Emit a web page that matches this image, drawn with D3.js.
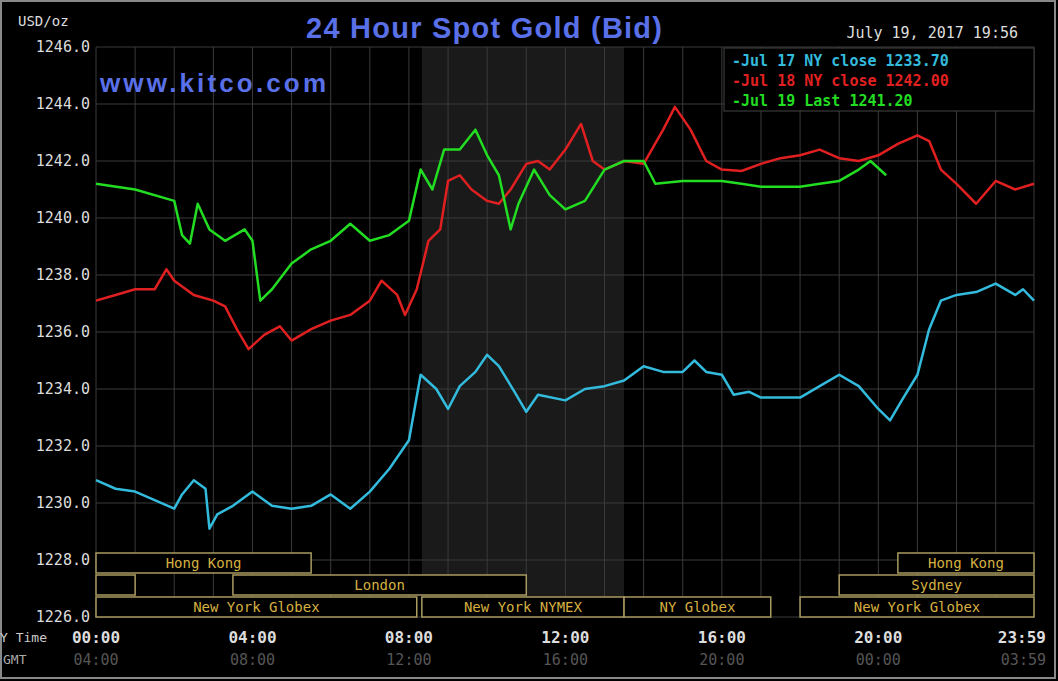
<!DOCTYPE html><html><head><meta charset="utf-8"><script src="https://cdn.jsdelivr.net/npm/d3@7"></script>
<style>body{margin:0;background:#000}svg{display:block}</style></head><body><svg id="c" width="1058" height="681"></svg>
<script>
const yTicks=[1226,1228,1230,1232,1234,1236,1238,1240,1242,1244,1246];
const nyTicks=[[0,"00:00"],[4,"04:00"],[8,"08:00"],[12,"12:00"],[16,"16:00"],[20,"20:00"],[23.98,"23:59"]];
const gmtLabels=["04:00","08:00","12:00","16:00","20:00","00:00","03:59"];
const jul17=[[0,1230.8],[0.5,1230.5],[1,1230.4],[1.5,1230.1],[2,1229.8],[2.2,1230.3],[2.5,1230.8],[2.8,1230.5],[2.9,1229.1],[3.1,1229.6],[3.5,1229.9],[4,1230.4],[4.5,1229.9],[5,1229.8],[5.5,1229.9],[6,1230.3],[6.5,1229.8],[7,1230.4],[7.5,1231.2],[8,1232.2],[8.3,1234.5],[8.7,1234.0],[9,1233.3],[9.3,1234.1],[9.7,1234.6],[10,1235.2],[10.3,1234.8],[10.7,1233.9],[11,1233.2],[11.3,1233.8],[12,1233.6],[12.5,1234.0],[13,1234.1],[13.5,1234.3],[14,1234.8],[14.5,1234.6],[15,1234.6],[15.3,1235.0],[15.6,1234.6],[16,1234.5],[16.3,1233.8],[16.7,1233.9],[17,1233.7],[18,1233.7],[18.5,1234.1],[19,1234.5],[19.5,1234.1],[20,1233.3],[20.3,1232.9],[20.6,1233.6],[21,1234.5],[21.3,1236.1],[21.6,1237.1],[22,1237.3],[22.5,1237.4],[23,1237.7],[23.5,1237.3],[23.7,1237.5],[23.98,1237.1]];
const jul18=[[0,1237.1],[0.5,1237.3],[1,1237.5],[1.5,1237.5],[1.8,1238.2],[2,1237.8],[2.5,1237.3],[3,1237.1],[3.3,1236.9],[3.6,1236.1],[3.9,1235.4],[4.3,1235.9],[4.7,1236.2],[5,1235.7],[5.5,1236.1],[6,1236.4],[6.5,1236.6],[7,1237.1],[7.3,1237.8],[7.7,1237.3],[7.9,1236.6],[8.2,1237.5],[8.5,1239.2],[8.8,1239.6],[9,1241.3],[9.3,1241.5],[9.6,1241.0],[10,1240.6],[10.3,1240.5],[10.6,1241.0],[11,1241.9],[11.3,1242.0],[11.6,1241.7],[12,1242.4],[12.4,1243.3],[12.7,1242.0],[13,1241.7],[13.5,1242.0],[14,1241.9],[14.5,1243.1],[14.8,1243.9],[15.2,1243.1],[15.6,1242.0],[16,1241.7],[16.5,1241.65],[17,1241.9],[17.5,1242.1],[18,1242.2],[18.5,1242.4],[19,1242.1],[19.5,1242.0],[20,1242.2],[20.5,1242.6],[21,1242.9],[21.3,1242.7],[21.6,1241.7],[22,1241.2],[22.5,1240.5],[23,1241.3],[23.5,1241.0],[23.98,1241.2]];
const jul19=[[0,1241.2],[1,1241.0],[2,1240.6],[2.2,1239.4],[2.4,1239.1],[2.6,1240.5],[2.9,1239.6],[3.3,1239.2],[3.8,1239.6],[4,1239.2],[4.2,1237.1],[4.5,1237.5],[5,1238.4],[5.5,1238.9],[6,1239.2],[6.5,1239.8],[7,1239.2],[7.5,1239.4],[8,1239.9],[8.3,1241.7],[8.6,1241.0],[8.9,1242.4],[9.3,1242.4],[9.7,1243.1],[10,1242.2],[10.3,1241.5],[10.6,1239.6],[10.8,1240.5],[11.2,1241.7],[11.6,1240.8],[12,1240.3],[12.5,1240.6],[13,1241.7],[13.5,1242.0],[14,1242.0],[14.3,1241.2],[15,1241.3],[16,1241.3],[16.5,1241.2],[17,1241.1],[18,1241.1],[18.5,1241.2],[19,1241.3],[19.5,1241.7],[19.8,1242.0],[20.2,1241.5]];
const legend=[["-Jul 17 NY close 1233.70","#33bbdd"],["-Jul 18 NY close 1242.00","#e02020"],["-Jul 19 Last 1241.20","#22dd22"]];
const sessions=[[0,0,5.5,"Hong Kong"],[0,20.5,24,"Hong Kong"],[1,0,1,""],[1,3.5,11,"London"],[1,19,24,"Sydney"],[2,0,8.2,"New York Globex"],[2,8.33,13.5,"New York NYMEX"],[2,13.5,17.25,"NY Globex"],[2,18,24,"New York Globex"]];

const svg=d3.select("#c");
const L=96,R=1034,T=47,B=617;
const x=d3.scaleLinear().domain([0,23.98]).range([L,R]);
const y=d3.scaleLinear().domain([1226,1246]).range([B,T]);
svg.append("rect").attr("width",1058).attr("height",681).attr("fill","#000");
svg.append("rect").attr("x",1).attr("y",1).attr("width",1054).attr("height",677).attr("fill","none").attr("stroke","#888").attr("stroke-width",2);
svg.append("rect").attr("x",x(8.33)).attr("y",T).attr("width",x(13.5)-x(8.33)).attr("height",B-T).attr("fill","#1a1a1a");
const g=svg.append("g");
g.selectAll(".v").data(d3.range(0,25)).join("line").attr("x1",d=>x(Math.min(d,23.98))).attr("x2",d=>x(Math.min(d,23.98))).attr("y1",T).attr("y2",B).attr("stroke","#3a3a3a");
g.selectAll(".h").data(yTicks).join("line").attr("x1",L).attr("x2",R).attr("y1",d=>y(d)).attr("y2",d=>y(d)).attr("stroke","#3a3a3a");
const mono="'DejaVu Sans Mono',monospace";
svg.append("g").selectAll("text").data(yTicks).join("text").attr("x",90).attr("y",d=>y(d)+5).attr("text-anchor","end").attr("fill","#ddd").attr("font-family",mono).attr("font-size",15).text(d=>d.toFixed(1));
svg.append("text").attr("x",18).attr("y",26).attr("fill","#ddd").attr("font-family",mono).attr("font-size",14).text("USD/oz");
svg.append("g").selectAll("text").data(nyTicks).join("text").attr("x",(d,i)=>i==6?1046:x(d[0])).attr("y",643).attr("text-anchor",(d,i)=>i==6?"end":"middle").attr("fill","#ddd").attr("font-family",mono).attr("font-size",16).attr("font-weight","bold").text(d=>d[1]);
svg.append("g").selectAll("text").data(nyTicks).join("text").attr("x",(d,i)=>i==6?1046:x(d[0])).attr("y",665).attr("text-anchor",(d,i)=>i==6?"end":"middle").attr("fill","#555").attr("font-family",mono).attr("font-size",15).text((d,i)=>gmtLabels[i]);
svg.append("text").attr("x",0).attr("y",642).attr("fill","#ccc").attr("font-family",mono).attr("font-size",13).text("Y Time");
svg.append("text").attr("x",3).attr("y",664).attr("fill","#aaa").attr("font-family",mono).attr("font-size",13).text("GMT");
const rows=[553,575,597];
const sg=svg.append("g");
sessions.forEach(s=>{const y0=rows[s[0]];
 sg.append("rect").attr("x",x(Math.min(s[1],23.98))).attr("y",y0).attr("width",x(Math.min(s[2],23.98))-x(Math.min(s[1],23.98))).attr("height",20).attr("fill","#000").attr("stroke","#a89a60").attr("stroke-width",1.5);
 sg.append("text").attr("x",(x(s[1])+x(Math.min(s[2],23.98)))/2).attr("y",y0+15).attr("text-anchor","middle").attr("fill","#d6b040").attr("font-family",mono).attr("font-size",14).text(s[3]);});
const line=d3.line().x(d=>x(d[0])).y(d=>y(d[1]));
[[jul17,"#33bbdd"],[jul18,"#e02020"],[jul19,"#22dd22"]].forEach(([d,c])=>svg.append("path").datum(d).attr("d",line).attr("fill","none").attr("stroke",c).attr("stroke-width",2.5).attr("stroke-linejoin","round"));
svg.append("text").attr("x",484).attr("y",38).attr("text-anchor","middle").attr("fill","#5a70e8").attr("font-family","'Liberation Sans',Arial,sans-serif").attr("font-size",29).attr("font-weight","bold").attr("textLength",356).text("24 Hour Spot Gold (Bid)");
svg.append("text").attr("x",100).attr("y",92).attr("fill","#5a70e8").attr("font-family","'Liberation Sans',Arial,sans-serif").attr("font-size",26).attr("font-weight","bold").attr("textLength",226).text("www.kitco.com");
svg.append("text").attr("x",1018).attr("y",38).attr("text-anchor","end").attr("fill","#ddd").attr("font-family",mono).attr("font-size",15).text("July 19, 2017 19:56");
svg.append("rect").attr("x",724).attr("y",48).attr("width",310).attr("height",63).attr("fill","#000").attr("stroke","#444");
svg.append("g").selectAll("text").data(legend).join("text").attr("x",732).attr("y",(d,i)=>66+i*20).attr("fill",d=>d[1]).attr("font-family",mono).attr("font-size",15).attr("font-weight","bold").text(d=>d[0]);
</script></body></html>
